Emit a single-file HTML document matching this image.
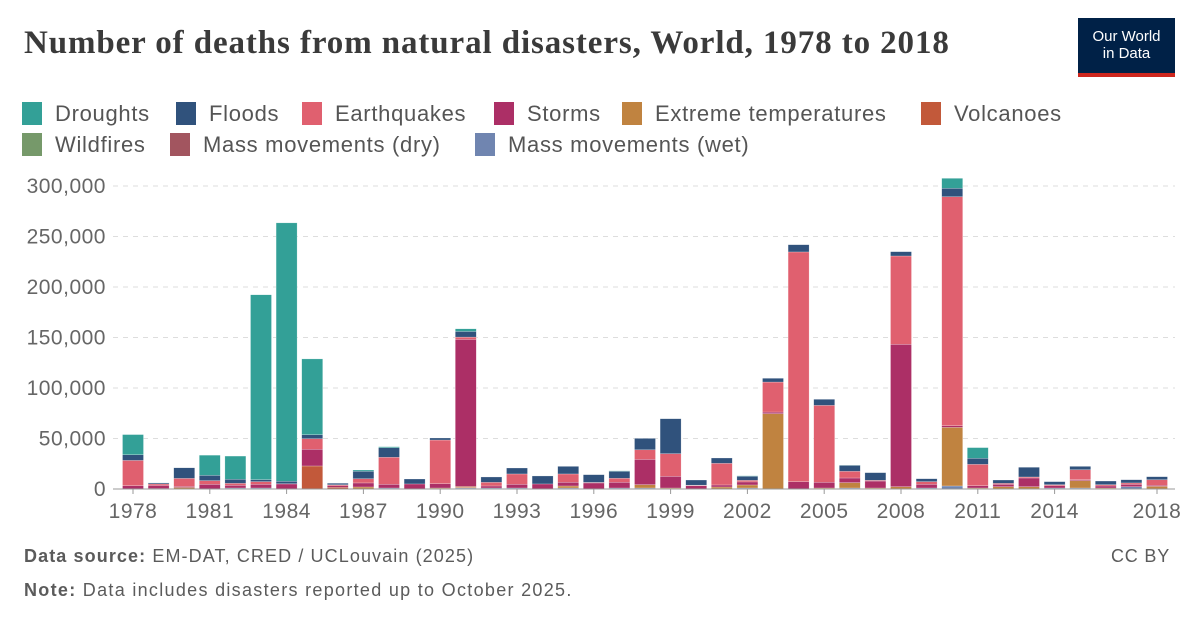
<!DOCTYPE html>
<html><head><meta charset="utf-8"><style>
body{margin:0;background:#fff;font-family:"Liberation Sans",sans-serif;}
#wrap{position:relative;width:1200px;height:627px;overflow:hidden;}
.t{position:absolute;white-space:nowrap;}
.lg{position:absolute;font-size:22px;letter-spacing:0.7px;color:#555;white-space:nowrap;line-height:24px;}
.sw{position:absolute;width:20px;height:23px;}
</style></head><body>
<div id="wrap">
<div class="t" style="left:24px;top:25px;font-family:'Liberation Serif',serif;font-weight:bold;font-size:33px;color:#3a3a3a;letter-spacing:0.9px">Number of deaths from natural disasters, World, 1978 to 2018</div>
<div style="position:absolute;left:1078px;top:18px;width:97px;height:59px;background:#002147;">
<div style="position:absolute;left:0;right:0;top:10px;text-align:center;color:#fff;font-size:15px;line-height:17px">Our World<br>in Data</div>
<div style="position:absolute;left:0;right:0;bottom:0;height:4px;background:#ce261e"></div></div>
<div id="legend"></div>
<svg id="chart" width="1200" height="627" style="position:absolute;left:0;top:0"></svg>
<div class="t" style="left:24px;top:546px;font-size:18px;letter-spacing:1.1px;color:#5b5b5b"><b>Data source:</b> EM-DAT, CRED / UCLouvain (2025)</div>
<div class="t" style="right:30px;top:546px;font-size:18px;letter-spacing:0.8px;color:#5b5b5b">CC BY</div>
<div class="t" style="left:24px;top:580px;font-size:18px;letter-spacing:1.3px;color:#5b5b5b"><b>Note:</b> Data includes disasters reported up to October 2025.</div>
</div>
<script>
const years=[1978,1979,1980,1981,1982,1983,1984,1985,1986,1987,1988,1989,1990,1991,1992,1993,1994,1995,1996,1997,1998,1999,2000,2001,2002,2003,2004,2005,2006,2007,2008,2009,2010,2011,2012,2013,2014,2015,2016,2017,2018];
const massWet=[0,0,0,0,1,1,0,0,0,0,1,0,0,1,1,1,0,1,0,1,1,0,0,0,1,0,0,0,1,0,0,1,3,0,0,0,1,1,0,2.3,0];
const massDry=years.map(()=>0);
const wildfires=years.map(()=>0);
const volcanoes=[0,0,0,0,0,0,0,22.8,1.7,0,0,0,0,0.5,0,0,0,0,0,0,0,0,0,0,0,0,0,0,0,0,0,0,0,0,0,0,0,0,0,0,0];
const extremeTemps=[0,0.5,1.5,0,0,0,0,0,0,2,0,0,1,1,0,0,0,2,0,0,3.3,1,0,2,3,74.6,0,1,5.3,1,2.3,0,58,1,2.3,2.3,0,7.3,1,0,2.6];
const storms=[3.3,3,1,4.6,2.6,3.6,5,16.5,1.5,4,3.6,5,4.3,145.6,2,3.6,5,3.6,6,5.6,25,11.5,3.3,2,3,1.6,7.3,5.6,4.6,6.9,140.9,3.6,1.7,2.3,2.3,8.6,2.3,0.9,2,2.3,1];
const earthquakes=[25,1.5,8,3.7,2,2.7,0.2,10.5,1,4.2,26.8,0,43.2,2.3,3.6,10.3,0,8.3,0.5,4,9.5,22.5,0.5,21.4,1.6,29.7,227.4,76.2,6.6,0.7,87.5,2.7,226.7,21.1,1,1,1,9.9,1.3,1.4,5.6];
const floods=[5.6,1,10.5,5.2,4,2,2.5,4,1.5,7.3,9.5,4.9,2,5.6,5.3,5.9,7.9,7.5,7.7,6.9,11.3,34.6,5.1,5.3,4,3.7,7.2,6,5.9,7.6,4.3,2.9,8.3,6,3.3,9.6,3,3.3,3.6,3.2,3];
const droughts=[20,0,0,20,23,183,255.8,75,0,1.3,1,0,0,2.6,0,0,0,0,0,0.5,0,0,0,0,0.5,0,0,0,0.3,0,0,0,9.9,10.6,0,0,0,0,0,0,0];
const yTicks=[0,50000,100000,150000,200000,250000,300000];
const yTickLabels=["0","50,000","100,000","150,000","200,000","250,000","300,000"];
const xTickYears=[1978,1981,1984,1987,1990,1993,1996,1999,2002,2005,2008,2011,2014,2018];

const series=[
 {name:"Mass movements (wet)",vals:massWet,c:"#7085b0"},
 {name:"Mass movements (dry)",vals:massDry,c:"#a2555f"},
 {name:"Wildfires",vals:wildfires,c:"#76996a"},
 {name:"Volcanoes",vals:volcanoes,c:"#c2593a"},
 {name:"Extreme temperatures",vals:extremeTemps,c:"#c08340"},
 {name:"Storms",vals:storms,c:"#ac2f66"},
 {name:"Earthquakes",vals:earthquakes,c:"#e0606f"},
 {name:"Floods",vals:floods,c:"#30527c"},
 {name:"Droughts",vals:droughts,c:"#33a097"}];
const NS="http://www.w3.org/2000/svg";
const svg=document.getElementById('chart');
const y0=489,pxPer=303/300000;
const yScale=v=>y0-v*pxPer;
const xScale=yr=>133+(yr-1978)*25.6;
function mk(t,a){const e=document.createElementNS(NS,t);for(const k in a)e.setAttribute(k,a[k]);svg.appendChild(e);return e;}
yTicks.forEach((v,i)=>{
 if(v>0){const g=mk('line',{x1:113,x2:1175,y1:yScale(v),y2:yScale(v),stroke:'#ddd','stroke-dasharray':'5,5'});
 
 }
 const t=mk('text',{x:106,y:yScale(v)+7,'text-anchor':'end','font-size':'21','fill':'#666','font-family':'Liberation Sans','letter-spacing':'0.5'});
 t.textContent=yTickLabels[i];
 
 
});
years.forEach((yr,i)=>{
 let acc=0;const x=xScale(yr)-10.5;
 series.forEach(s=>{const v=s.vals[i]*1000;if(v<=0)return;
  const r=mk('rect',{x:x,y:yScale(acc+v),width:21,height:v*pxPer,fill:s.c,stroke:'#fff','stroke-width':0.4,'stroke-opacity':0.6});
  
  
  acc+=v;});
});
const ax=mk('line',{x1:113,x2:1175,y1:y0,y2:y0,stroke:'#999','stroke-width':1});


xTickYears.forEach(yr=>{
 const tk=mk('line',{x1:xScale(yr),x2:xScale(yr),y1:y0,y2:y0+5,stroke:'#999'});
 
 
 const t=mk('text',{x:xScale(yr),y:518,'text-anchor':'middle','font-size':'21','fill':'#666','font-family':'Liberation Sans','letter-spacing':'0.5'});
 t.textContent=yr;
 
 
});
const legendItems=[["Droughts","#33a097",22,102],["Floods","#30527c",176,102],["Earthquakes","#e0606f",302,102],["Storms","#ac2f66",494,102],["Extreme temperatures","#c08340",622,102],["Volcanoes","#c2593a",921,102],["Wildfires","#76996a",22,133],["Mass movements (dry)","#a2555f",170,133],["Mass movements (wet)","#7085b0",475,133]];
const lg=document.getElementById('legend');
legendItems.forEach(([n,c,x,y])=>{
 const s=document.createElement('div');s.className='sw';s.style.left=x+'px';s.style.top=y+'px';s.style.background=c;
 
 
 lg.appendChild(s);
 const t=document.createElement('div');t.className='lg';t.style.left=(x+33)+'px';t.style.top=(y)+'px';t.textContent=n;
 
 
 lg.appendChild(t);
});
</script>
</body></html>
